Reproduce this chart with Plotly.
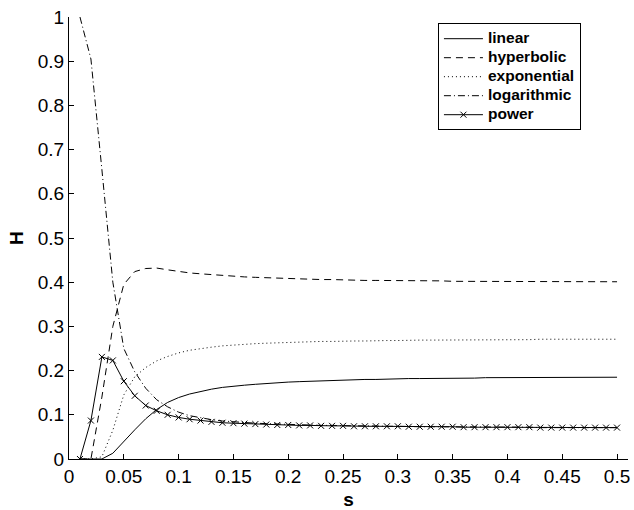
import plotly.graph_objects as go

s_values = [round(0.01 * i, 2) for i in range(1, 51)]

linear = [0, 0, 0, 0.013, 0.040, 0.066, 0.091, 0.112, 0.128, 0.139,
          0.147, 0.153, 0.158, 0.162, 0.165, 0.167, 0.169, 0.171, 0.173, 0.174,
          0.175, 0.176, 0.177, 0.178, 0.179, 0.179, 0.180, 0.180, 0.181, 0.181,
          0.182, 0.182, 0.182, 0.183, 0.183, 0.183, 0.183, 0.184, 0.184, 0.184,
          0.184, 0.184, 0.185, 0.185, 0.185, 0.185, 0.185, 0.185, 0.185, 0.185]

hyperbolic = [0, 0, 0.14, 0.30, 0.395, 0.424, 0.431, 0.432, 0.428, 0.424,
              0.421, 0.419, 0.417, 0.415, 0.413, 0.412, 0.411, 0.410, 0.409, 0.408,
              0.407, 0.407, 0.406, 0.406, 0.405, 0.405, 0.404, 0.404, 0.404, 0.403,
              0.403, 0.403, 0.403, 0.403, 0.402, 0.402, 0.402, 0.402, 0.402, 0.402,
              0.401, 0.401, 0.401, 0.401, 0.401, 0.401, 0.401, 0.401, 0.401, 0.401]

exponential = [0, 0, 0.005, 0.065, 0.145, 0.186, 0.207, 0.222, 0.232, 0.240,
               0.246, 0.250, 0.253, 0.256, 0.258, 0.259, 0.261, 0.262, 0.263, 0.264,
               0.265, 0.265, 0.266, 0.266, 0.267, 0.267, 0.267, 0.268, 0.268, 0.268,
               0.269, 0.269, 0.269, 0.269, 0.269, 0.270, 0.270, 0.270, 0.270, 0.270,
               0.270, 0.270, 0.271, 0.271, 0.271, 0.271, 0.271, 0.271, 0.271, 0.271]

logarithmic = [1.0, 0.905, 0.655, 0.400, 0.250, 0.197, 0.160, 0.134, 0.118, 0.106,
               0.098, 0.093, 0.089, 0.086, 0.084, 0.082, 0.081, 0.080, 0.079, 0.078,
               0.077, 0.077, 0.076, 0.076, 0.075, 0.075, 0.075, 0.074, 0.074, 0.074,
               0.073, 0.073, 0.073, 0.073, 0.073, 0.072, 0.072, 0.072, 0.072, 0.072,
               0.072, 0.072, 0.071, 0.071, 0.071, 0.071, 0.071, 0.071, 0.071, 0.071]

power = [0, 0.087, 0.231, 0.223, 0.176, 0.143, 0.121, 0.109, 0.100, 0.094,
         0.090, 0.087, 0.084, 0.082, 0.081, 0.080, 0.079, 0.078, 0.077, 0.077,
         0.076, 0.076, 0.075, 0.075, 0.075, 0.074, 0.074, 0.074, 0.074, 0.074,
         0.073, 0.073, 0.073, 0.073, 0.073, 0.072, 0.072, 0.072, 0.072, 0.072,
         0.072, 0.072, 0.071, 0.071, 0.071, 0.071, 0.071, 0.071, 0.071, 0.071]

series_names = ["linear", "hyperbolic", "exponential", "logarithmic", "power"]

x_ticks = [0, 0.05, 0.1, 0.15, 0.2, 0.25, 0.3, 0.35, 0.4, 0.45, 0.5]
x_tick_labels = ["0", "0.05", "0.1", "0.15", "0.2", "0.25", "0.3", "0.35", "0.4", "0.45", "0.5"]
y_ticks = [0, 0.1, 0.2, 0.3, 0.4, 0.5, 0.6, 0.7, 0.8, 0.9, 1]
y_tick_labels = ["0", "0.1", "0.2", "0.3", "0.4", "0.5", "0.6", "0.7", "0.8", "0.9", "1"]

FONT = "Liberation Sans, Arial, Helvetica, sans-serif"


def legend_label(name):
    return '<span style="font-size:15.5px">' + name + '</span>'


fig = go.Figure()
fig.add_trace(go.Scatter(x=s_values, y=linear, name=legend_label(series_names[0]), mode="lines",
                         line=dict(color="black", width=1)))
fig.add_trace(go.Scatter(x=s_values, y=hyperbolic, name=legend_label(series_names[1]), mode="lines",
                         line=dict(color="black", width=1, dash="7px,5px")))
fig.add_trace(go.Scatter(x=s_values, y=exponential, name=legend_label(series_names[2]), mode="lines",
                         line=dict(color="black", width=1, dash="1px,3px")))
fig.add_trace(go.Scatter(x=s_values, y=logarithmic, name=legend_label(series_names[3]), mode="lines",
                         line=dict(color="black", width=1, dash="7px,3px,1px,3px")))
fig.add_trace(go.Scatter(x=s_values, y=power, name=legend_label(series_names[4]), mode="lines+markers",
                         line=dict(color="black", width=1),
                         marker=dict(symbol="x-thin", size=6, color="black",
                                     line=dict(color="black", width=1))))

axis_common = dict(showline=True, linecolor="black", linewidth=1, ticks="inside",
                   ticklen=5, tickcolor="black", tickwidth=1, showgrid=False,
                   zeroline=False, mirror=False,
                   tickfont=dict(family=FONT, size=19, color="black"))

fig.update_layout(
    width=634, height=510, autosize=False,
    margin=dict(l=69, r=4, t=17, b=51),
    paper_bgcolor="white", plot_bgcolor="white",
    font=dict(family=FONT, color="black"),
    xaxis=dict(range=[0, 0.51], tickvals=x_ticks, ticktext=x_tick_labels,
               title=dict(text="s", standoff=6,
                          font=dict(family=FONT, size=19, color="black", weight="bold")),
               **axis_common),
    yaxis=dict(range=[0, 1], tickvals=y_ticks, ticktext=y_tick_labels,
               title=dict(text="H", standoff=9,
                          font=dict(family=FONT, size=19, color="black", weight="bold")),
               **axis_common),
    legend=dict(x=0.66, y=0.986, xanchor="left", yanchor="top",
                bgcolor="white", bordercolor="black", borderwidth=1,
                font=dict(family=FONT, size=12, color="black", weight="bold"),
                itemwidth=39, tracegroupgap=0),
    showlegend=True,
)

fig.write_html("out.html",
               config={"displayModeBar": False},
               post_script="document.body.style.margin='0';document.body.style.overflow='hidden';")
